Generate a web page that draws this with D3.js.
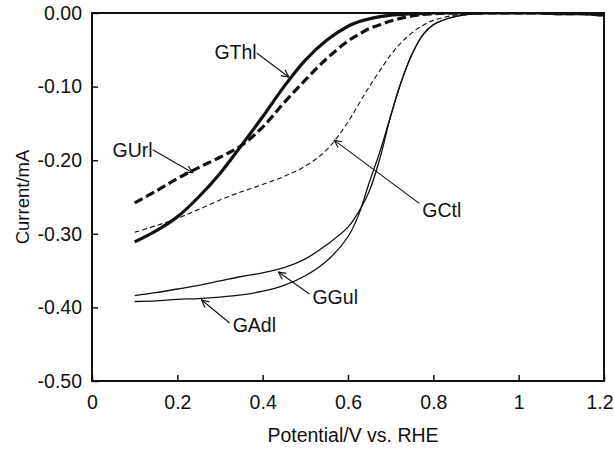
<!DOCTYPE html>
<html lang="en">
<head>
    <meta charset="UTF-8">
    <title>Current vs potential</title>
    <script src="https://cdn.jsdelivr.net/npm/d3@7"></script>
    <style>
        body { margin: 0; background: #fff; }
        text { font-family: "Liberation Sans", Arial, sans-serif; fill: #111; }
    </style>
</head>
<body>
<script>
    // potential (V vs. RHE) shared by every curve
    let potential = [0.10, 0.15, 0.20, 0.25, 0.30, 0.35, 0.40, 0.45, 0.50, 0.55, 0.60, 0.625, 0.65, 0.675,
        0.70, 0.725, 0.75, 0.775, 0.80, 0.85, 0.90, 0.95, 1.00, 1.05, 1.10, 1.15, 1.20]

    // current in mA
    let gthl = [-0.311, -0.296, -0.277, -0.250, -0.218, -0.180, -0.141, -0.100, -0.064, -0.037, -0.018, -0.012, -0.008, -0.005,
        -0.003, -0.002, -0.001, -0.001, 0, 0, 0, 0, 0, 0, -0.001, -0.001, -0.003]
    let gurl = [-0.258, -0.242, -0.225, -0.210, -0.196, -0.180, -0.155, -0.122, -0.091, -0.062, -0.038, -0.029, -0.021, -0.016,
        -0.011, -0.007, -0.004, -0.002, -0.001, 0, 0, 0, 0, 0, -0.001, -0.001, -0.003]
    let gctl = [-0.298, -0.289, -0.279, -0.267, -0.254, -0.243, -0.233, -0.222, -0.208, -0.186, -0.148, -0.124, -0.100, -0.078,
        -0.057, -0.040, -0.027, -0.017, -0.010, -0.003, -0.001, 0, 0, 0, -0.001, -0.001, -0.002]
    let ggul = [-0.384, -0.380, -0.375, -0.370, -0.364, -0.358, -0.353, -0.346, -0.334, -0.315, -0.291, -0.270, -0.242, -0.197,
        -0.140, -0.093, -0.056, -0.030, -0.016, -0.005, -0.001, 0, 0, 0, 0, -0.001, -0.002]
    let gadl = [-0.392, -0.391, -0.389, -0.388, -0.386, -0.383, -0.378, -0.370, -0.357, -0.337, -0.304, -0.274, -0.230, -0.188,
        -0.140, -0.093, -0.056, -0.030, -0.016, -0.005, -0.001, 0, 0, 0, 0, -0.001, -0.002]

    let seriesNames = ["GThl", "GUrl", "GCtl", "GGul", "GAdl"]
    let seriesValues = [gthl, gurl, gctl, ggul, gadl]

    // arrow tips for the labels (V, mA)
    let labelTipV = [0.461, 0.236, 0.568, 0.437, 0.257]
    let labelTipI = [-0.087, -0.217, -0.173, -0.352, -0.390]

    let xTicks = [0, 0.2, 0.4, 0.6, 0.8, 1, 1.2]
    let yTicks = [0, -0.1, -0.2, -0.3, -0.4, -0.5]

    // line looks per series
    let lineStyle = {
        GThl: {w: 3.2, dash: null},
        GUrl: {w: 3.2, dash: "9,4"},
        GCtl: {w: 1.1, dash: "5,3"},
        GGul: {w: 1.3, dash: null},
        GAdl: {w: 1.3, dash: null}
    }
    // where the label text sits relative to the arrow tip (px), and text anchor
    let labelPlace = {
        GThl: {dx: -32, dy: -24, tx: -32, ty: -18, anchor: "end"},
        GUrl: {dx: -40, dy: -23, tx: -40, ty: -16, anchor: "end"},
        GCtl: {dx: 85, dy: 63, tx: 88, ty: 77, anchor: "start"},
        GGul: {dx: 31, dy: 22, tx: 34, ty: 32, anchor: "start"},
        GAdl: {dx: 28, dy: 23, tx: 31, ty: 32, anchor: "start"}
    }

    let W = 614, H = 449
    let m = {left: 92, right: 10, top: 13, bottom: 68}
    let fs = '19.5px'

    let svg = d3.select('body').append('svg')
        .attr('width', W)
        .attr('height', H)

    let x = d3.scaleLinear().domain([0, 1.2]).range([m.left, W - m.right])
    let y = d3.scaleLinear().domain([-0.5, 0]).range([H - m.bottom, m.top])

    let defs = svg.append('defs')
    defs.append('marker')
        .attr('id', 'arrow')
        .attr('viewBox', '0 0 10 10')
        .attr('refX', 9).attr('refY', 5)
        .attr('markerWidth', 9).attr('markerHeight', 9)
        .attr('markerUnits', 'userSpaceOnUse')
        .attr('orient', 'auto')
        .append('path')
        .attr('d', 'M1,1 L9,5 L1,9')
        .attr('fill', 'none')
        .attr('stroke', '#111')
        .attr('stroke-width', 1.3)
    defs.append('clipPath').attr('id', 'plot')
        .append('rect')
        .attr('x', x(0)).attr('y', y(0))
        .attr('width', x(1.2) - x(0)).attr('height', y(-0.5) - y(0))

    // axes, ticks pointing inward
    let yAxis = d3.axisLeft(y).tickValues(yTicks).tickSize(-6).tickPadding(10)
        .tickFormat(function (d) { return d.toFixed(2) })
    let xAxis = d3.axisBottom(x).tickValues(xTicks).tickSize(-6).tickPadding(14)
        .tickFormat(function (d) { return String(+d.toFixed(1)) })

    let gy = svg.append('g').attr('transform', 'translate(' + m.left + ',0)').call(yAxis)
    let gx = svg.append('g').attr('transform', 'translate(0,' + (H - m.bottom) + ')').call(xAxis)
    ;[gx, gy].forEach(function (g) {
        g.select('.domain').remove()
        g.selectAll('line').attr('stroke', '#111').attr('stroke-width', 1.5)
        g.selectAll('text').style('font-size', fs).style('font-family', '"Liberation Sans", Arial, sans-serif')
            .attr('fill', '#111')
    })
    gx.selectAll('text').attr('dy', '0.71em')
    // last label sits at the right edge of the picture
    gx.selectAll('.tick').filter(function (d) { return d === 1.2 })
        .select('text').attr('text-anchor', 'end').attr('x', W - 1 - x(1.2))

    // curves
    let line = d3.line()
        .x(function (d) { return x(d[0]) })
        .y(function (d) { return y(d[1]) })
        .curve(d3.curveCatmullRom.alpha(0.5))

    svg.append('g').attr('clip-path', 'url(#plot)')
        .selectAll('path.curve')
        .data(seriesNames)
        .enter()
        .append('path')
        .attr('class', 'curve')
        .attr('d', function (d, i) {
            return line(potential.map(function (p, j) { return [p, seriesValues[i][j]] }))
        })
        .attr('fill', 'none')
        .attr('stroke', '#111')
        .attr('stroke-width', function (d) { return lineStyle[d].w })
        .attr('stroke-dasharray', function (d) { return lineStyle[d].dash })

    // frame
    svg.append('rect')
        .attr('x', x(0)).attr('y', y(0))
        .attr('width', x(1.2) - x(0)).attr('height', y(-0.5) - y(0))
        .attr('fill', 'none').attr('stroke', '#111').attr('stroke-width', 2)

    // labels with arrows
    let labels = svg.selectAll('g.lbl')
        .data(seriesNames)
        .enter()
        .append('g')
        .attr('class', 'lbl')
        .attr('transform', function (d, i) { return 'translate(' + x(labelTipV[i]) + ',' + y(labelTipI[i]) + ')' })

    labels.append('line')
        .attr('x1', function (d) { return labelPlace[d].dx })
        .attr('y1', function (d) { return labelPlace[d].dy })
        .attr('x2', 0).attr('y2', 0)
        .attr('stroke', '#111')
        .attr('stroke-width', 1.1)
        .attr('marker-end', 'url(#arrow)')

    labels.append('text')
        .attr('x', function (d) { return labelPlace[d].tx })
        .attr('y', function (d) { return labelPlace[d].ty })
        .attr('text-anchor', function (d) { return labelPlace[d].anchor })
        .style('font-size', fs)
        .text(function (d) { return d })

    // axis titles
    svg.append('text')
        .attr('x', (x(0) + x(1.2)) / 2 + 5)
        .attr('y', 442)
        .attr('text-anchor', 'middle')
        .style('font-size', fs)
        .text('Potential/V vs. RHE')

    svg.append('text')
        .attr('transform', 'translate(29,' + ((y(0) + y(-0.5)) / 2) + ') rotate(-90)')
        .attr('text-anchor', 'middle')
        .style('font-size', '18.5px')
        .text('Current/mA')
</script>
</body>
</html>
